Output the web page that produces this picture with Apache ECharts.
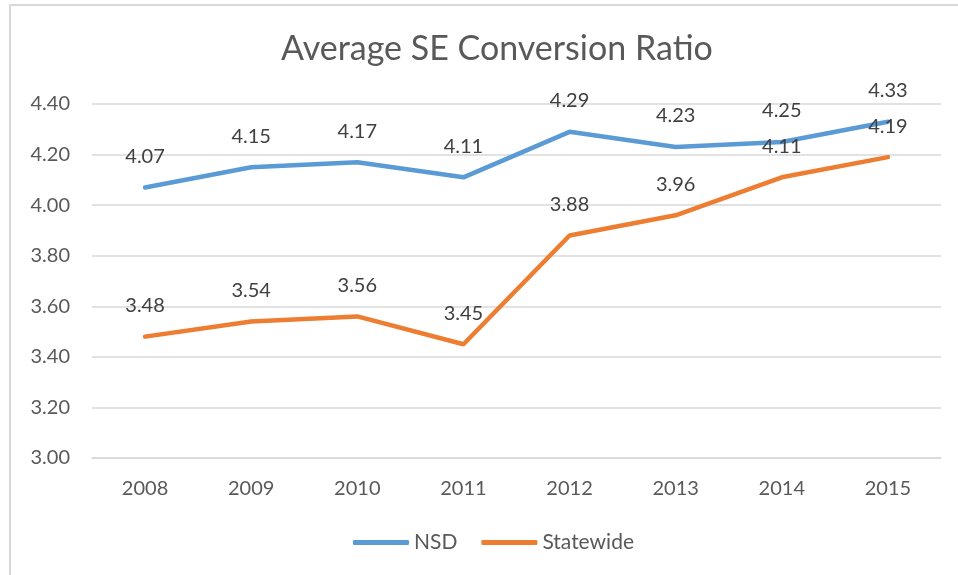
<!DOCTYPE html>
<html>
<head>
<meta charset="utf-8">
<title>Average SE Conversion Ratio</title>
<script src="https://cdn.jsdelivr.net/npm/echarts@6/dist/echarts.min.js"></script>
<style>
  html, body { margin: 0; padding: 0; background: #fff; }
  #main { width: 958px; height: 575px; }
</style>
</head>
<body>
<div id="main"></div>
<script type="text/javascript">
var years = ['2008', '2009', '2010', '2011', '2012', '2013', '2014', '2015'];
var nsd = [4.07, 4.15, 4.17, 4.11, 4.29, 4.23, 4.25, 4.33];
var statewide = [3.48, 3.54, 3.56, 3.45, 3.88, 3.96, 4.11, 4.19];

var font = 'Lato, "Open Sans", sans-serif';
var myChart = echarts.init(document.getElementById('main'));

function lineSeries(name, data, color) {
    return {
        name: name,
        type: 'line',
        data: data,
        symbol: 'circle',
        symbolSize: 0.1,
        showSymbol: true,
        lineStyle: { color: color, width: 4.5, cap: 'round' },
        itemStyle: { color: color },
        label: {
            show: true, position: 'top', distance: 21,
            fontFamily: font, fontSize: 20, color: '#404040',
            formatter: function (p) { return p.value.toFixed(2); }
        }
    };
}

var option = {
    backgroundColor: '#fff',
    animation: false,
    title: {
        text: 'Average SE Conversion Ratio',
        left: 276,
        top: 27,
        textStyle: { fontFamily: font, fontSize: 34, fontWeight: 'normal', color: '#595959' }
    },
    graphic: [{
        type: 'rect',
        shape: { x: 10, y: 5, width: 960, height: 590 },
        style: { fill: null, stroke: '#d9d9d9', lineWidth: 2 },
        silent: true
    }],
    legend: {
        data: ['NSD', 'Statewide'],
        bottom: 17,
        left: 348,
        icon: 'roundRect',
        itemWidth: 56,
        itemHeight: 5,
        itemGap: 24,
        textStyle: { fontFamily: font, fontSize: 21, color: '#595959' }
    },
    grid: { left: 92, right: 17, top: 104, bottom: 117 },
    xAxis: {
        type: 'category',
        data: years,
        boundaryGap: true,
        axisLine: { lineStyle: { color: '#d9d9d9', width: 1.5 } },
        axisTick: { show: false },
        axisLabel: { fontFamily: font, fontSize: 20, color: '#595959', margin: 21 }
    },
    yAxis: {
        type: 'value',
        min: 3,
        max: 4.4,
        interval: 0.2,
        axisLine: { show: false },
        axisTick: { show: false },
        splitLine: { lineStyle: { color: '#d9d9d9', width: 1.5 } },
        axisLabel: {
            fontFamily: font, fontSize: 20, color: '#595959', margin: 22,
            formatter: function (v) { return v.toFixed(2); }
        }
    },
    series: [
        lineSeries('NSD', nsd, '#5B9BD5'),
        lineSeries('Statewide', statewide, '#ED7D31')
    ]
};
myChart.setOption(option);
</script>
</body>
</html>
